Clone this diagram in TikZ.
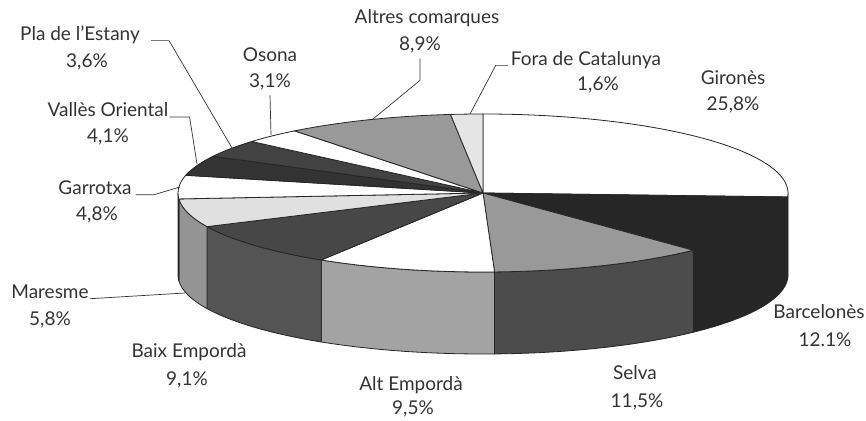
\documentclass[tikz,border=0pt]{standalone}
\usepackage{fontspec}
\setmainfont{Lato}
\usetikzlibrary{positioning,calc}
\definecolor{inkgrey}{HTML}{333333}
\begin{document}
\begin{tikzpicture}[x=1pt, y=1pt,
    regionlabel/.style={font=\fontsize{19}{22}\selectfont, text=inkgrey, inner sep=1pt},
    pct/.style={regionlabel},
    leader/.style={draw=inkgrey, line width=0.7pt},
    slice/.style={draw=black!85, line width=0.8pt, line join=round},
    pie/.style={x radius=305, y radius=79},
  ]
  \useasboundingbox (0,0) rectangle (866,420);
  \coordinate (c) at (483,227);
  \foreach \a/\b/\col in {0/-2.88/black!20, -2.88/-46.44/black!85, -46.44/-87.84/black!70,
      -87.84/-122.04/black!36, -122.04/-154.8/black!67, -154.8/-175.68/black!42,
      -175.68/-180/black!15}
    \filldraw[slice, fill=\col] ($(c)+(\a:305 and 79)$)
      arc[pie, start angle=\a, end angle=\b] -- ++(0,-82)
      arc[pie, start angle=\b, end angle=\a] -- cycle;
  \foreach \a/\b/\col in {90/-2.88/white, -2.88/-46.44/black!85, -46.44/-87.84/black!40,
      -87.84/-122.04/white, -122.04/-154.8/black!72, -154.8/-175.68/black!12,
      -175.68/-192.96/white, -192.96/-207.72/black!80, -207.72/-220.68/black!74,
      -220.68/-231.84/white, -231.84/-263.88/black!40, -263.88/-270/black!10}
    \filldraw[slice, fill=\col] (c) -- ($(c)+(\a:305 and 79)$)
      arc[pie, start angle=\a, end angle=\b] -- cycle;

  \node[regionlabel] (pla) at (80,385) {Pla de l'Estany};
  \node[pct] (plapct) at (87,358) {3,6\%};
  \node[regionlabel] (osona) at (270,365) {Osona};
  \node[pct] (osonapct) at (270,338) {3,1\%};
  \node[regionlabel] (altres) at (427,402) {Altres comarques};
  \node[pct] (altrespct) at (420,375) {8,9\%};
  \node[regionlabel] (fora) at (586,360) {Fora de Catalunya};
  \node[pct] (forapct) at (598,335) {1,6\%};
  \node[regionlabel] (girones) at (733,342) {Gironès};
  \node[pct] (gironespct) at (733,315) {25,8\%};
  \node[regionlabel] (valles) at (108,310) {Vallès Oriental};
  \node[pct] (vallespct) at (108,283) {4,1\%};
  \node[regionlabel] (garrotxa) at (95,232) {Garrotxa};
  \node[pct] (garrotxapct) at (97,205) {4,8\%};
  \node[regionlabel] (maresme) at (50,128) {Maresme};
  \node[pct] (maresmepct) at (50,100) {5,8\%};
  \node[regionlabel] (baix) at (189,68) {Baix Empordà};
  \node[pct] (baixpct) at (187,40) {9,1\%};
  \node[regionlabel] (alt) at (411,35) {Alt Empordà};
  \node[pct] (altpct) at (413,11) {9,5\%};
  \node[regionlabel] (selva) at (635,47) {Selva};
  \node[pct] (selvapct) at (637,18) {11,5\%};
  \node[regionlabel] (barcelones) at (819,108) {Barcelonès};
  \node[pct] (barcelonespct) at (825,80) {12.1\%};

  \coordinate (plaend) at (232,272);
  \coordinate (osonaend) at (271,285);
  \coordinate (altresend) at (373,301);
  \coordinate (foraend) at (470,306);
  \coordinate (vallesend) at (197,256);
  \coordinate (garrotxaend) at (180,233);
  \coordinate (maresmeend) at (185,127);

  \draw[leader] ([xshift=10pt]pla.base east) -- ++(18,0) -- (plaend);
  \draw[leader] ([yshift=-4pt]osonapct.south) -- (osonaend);
  \draw[leader] ([yshift=-4pt]altrespct.south) -- ++(0,-22) -- (altresend);
  \draw[leader] ([xshift=-2pt]fora.base west) -- ++(-12,0) -- (foraend);
  \draw[leader] (valles.base east) -- ++(20,0) -- (vallesend);
  \draw[leader] ([xshift=3pt]garrotxa.base east) -- ++(18,0) -- (garrotxaend);
  \draw[leader] (maresme.base east) -- (maresmeend);
\end{tikzpicture}
\end{document}
